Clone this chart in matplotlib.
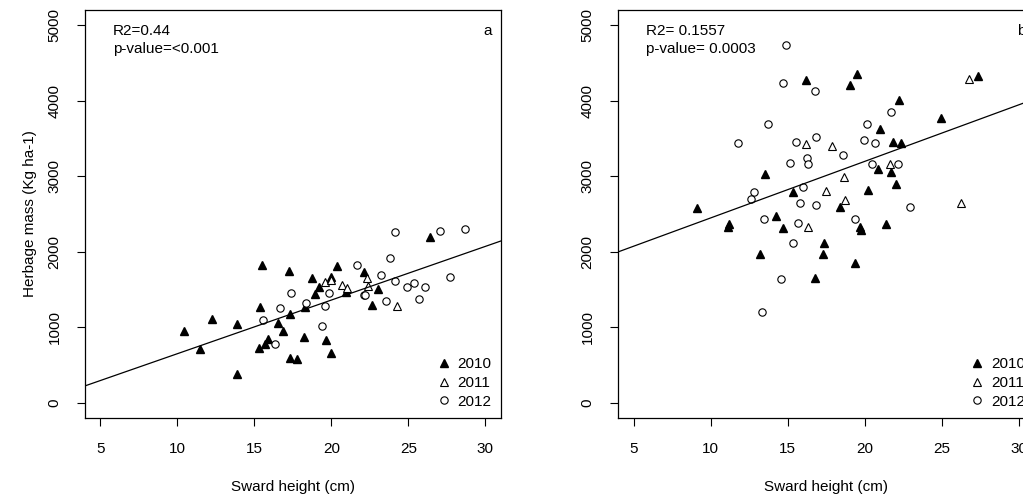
import numpy as np
import matplotlib.pyplot as plt

plt.rcParams['font.family'] = ['Liberation Sans', 'DejaVu Sans']
plt.rcParams['font.size'] = 11

# panel a: sward height (cm) vs herbage mass (kg/ha)
a_x2010 = [10.43, 11.48, 12.28, 13.87, 13.87, 15.50, 15.39, 15.31, 15.70, 15.87,
           16.55, 16.87, 17.33, 17.24, 17.31, 17.74, 18.22, 18.29, 18.74, 18.92,
           19.18, 19.66, 19.96, 19.96, 20.40, 20.98, 22.09, 23.00, 22.61, 26.44]
a_y2010 = [950, 711, 1108, 1046, 380, 1828, 1268, 733, 777, 848,
           1055, 950, 1175, 1748, 588, 583, 875, 1268, 1648, 1444,
           1536, 830, 654, 1669, 1811, 1470, 1731, 1506, 1290, 2191]
a_x2011 = [19.57, 19.96, 20.70, 21.03, 22.31, 22.40, 24.24]
a_y2011 = [1595, 1625, 1563, 1523, 1656, 1546, 1281]
a_x2012 = [15.59, 16.35, 16.68, 17.39, 18.37, 19.57, 19.83, 19.42, 21.66, 22.09,
           22.18, 23.22, 23.83, 24.13, 23.57, 24.90, 25.40, 25.68, 26.09, 27.72,
           24.13, 27.07, 28.70]
a_y2012 = [1091, 781, 1250, 1449, 1316, 1277, 1449, 1012, 1824, 1426,
           1426, 1691, 1921, 1612, 1347, 1532, 1581, 1369, 1532, 1669,
           2257, 2274, 2305]
a_fit = (-59, 71.0)  # intercept, slope

# panel b
b_x2010 = [9.12, 11.17, 11.10, 13.51, 14.25, 14.70, 15.35, 16.21, 17.34, 18.38,
           19.07, 19.51, 19.72, 19.77, 20.22, 21.02, 20.84, 21.36, 21.71, 21.84,
           22.36, 22.04, 22.21, 24.98, 27.34, 13.23, 17.27, 16.80, 19.40]
b_y2010 = [2575, 2367, 2323, 3029, 2473, 2310, 2791, 4274, 2111, 2596,
           4208, 4354, 2331, 2287, 2817, 3621, 3091, 2367, 3051, 3449,
           3436, 2893, 4009, 3767, 4327, 1970, 1970, 1647, 1846]
b_x2011 = [16.17, 16.30, 17.86, 17.51, 18.64, 18.70, 21.67, 26.26, 26.78]
b_y2011 = [3422, 2331, 3404, 2808, 2985, 2685, 3162, 2649, 4291]
b_x2012 = [14.89, 14.70, 16.80, 13.75, 11.75, 15.55, 16.84, 16.26, 16.32, 15.17,
           18.60, 20.13, 19.98, 20.69, 21.73, 20.45, 22.19, 12.79, 12.64, 16.00,
           15.78, 16.86, 13.44, 15.65, 19.35, 22.92, 15.32, 14.59, 13.36]
b_y2012 = [4738, 4238, 4133, 3695, 3436, 3453, 3515, 3237, 3158, 3179,
           3277, 3695, 3479, 3436, 3854, 3158, 3158, 2795, 2694, 2861,
           2641, 2618, 2437, 2384, 2437, 2596, 2119, 1634, 1197]
b_fit = (1700, 74.8)

xticks = [5, 10, 15, 20, 25, 30]
yticks = [0, 1000, 2000, 3000, 4000, 5000]

fig = plt.figure(figsize=(10.23, 4.95), dpi=100)
W, H = 1023, 495
ax1 = fig.add_axes([85 / W, 77 / H, 415.7 / W, 408 / H])
ax2 = fig.add_axes([618.3 / W, 77 / H, 415.7 / W, 408 / H])

panels = [
    (ax1, a_x2010, a_y2010, a_x2011, a_y2011, a_x2012, a_y2012, a_fit,
     "R2=0.44", "p-value=<0.001", "a"),
    (ax2, b_x2010, b_y2010, b_x2011, b_y2011, b_x2012, b_y2012, b_fit,
     "R2= 0.1557", "p-value= 0.0003", "b"),
]

for ax, x0, y0, x1, y1, x2, y2, fit, r2, pv, tag in panels:
    ax.plot(x0, y0, '^', color='black', ms=6, ls='none', label='2010')
    ax.plot(x1, y1, '^', mfc='white', mec='black', mew=0.8, ms=6, ls='none', label='2011')
    ax.plot(x2, y2, 'o', mfc='white', mec='black', mew=0.8, ms=5.3, ls='none', label='2012')
    ax.axline((0, fit[0]), slope=fit[1], color='black', lw=0.9)
    ax.set_xlim(4, 31)
    ax.set_ylim(-200, 5200)
    ax.set_xticks(xticks)
    ax.set_yticks(yticks)
    ax.set_yticklabels([str(v) for v in yticks], rotation=90, va='center')
    ax.tick_params(direction='out', length=6, width=0.8, pad=11, labelsize=11)
    for s in ax.spines.values():
        s.set_linewidth(0.9)
    ax.set_xlabel("Sward height (cm)", fontsize=11)
    ax.xaxis.set_label_coords(0.5, -0.168)
    ax.xaxis.label.set_va('center')
    ax.text(0.067, 0.949, r2, transform=ax.transAxes, ha='left', va='center', fontsize=11)
    ax.text(0.067, 0.904, pv, transform=ax.transAxes, ha='left', va='center', fontsize=11)
    ax.text(0.969, 0.949, tag, transform=ax.transAxes, ha='center', va='center', fontsize=11)
    ax.legend(loc='lower right', frameon=False, fontsize=11, handlelength=0.8,
              handletextpad=0.5, labelspacing=0.32, borderaxespad=0.3, borderpad=0.3)

ax1.set_ylabel("Herbage mass (Kg ha-1)", fontsize=11)
ax1.yaxis.set_label_coords(-0.132, 0.5)
ax1.yaxis.label.set_va('center')

fig.savefig("out.png", dpi=100)
